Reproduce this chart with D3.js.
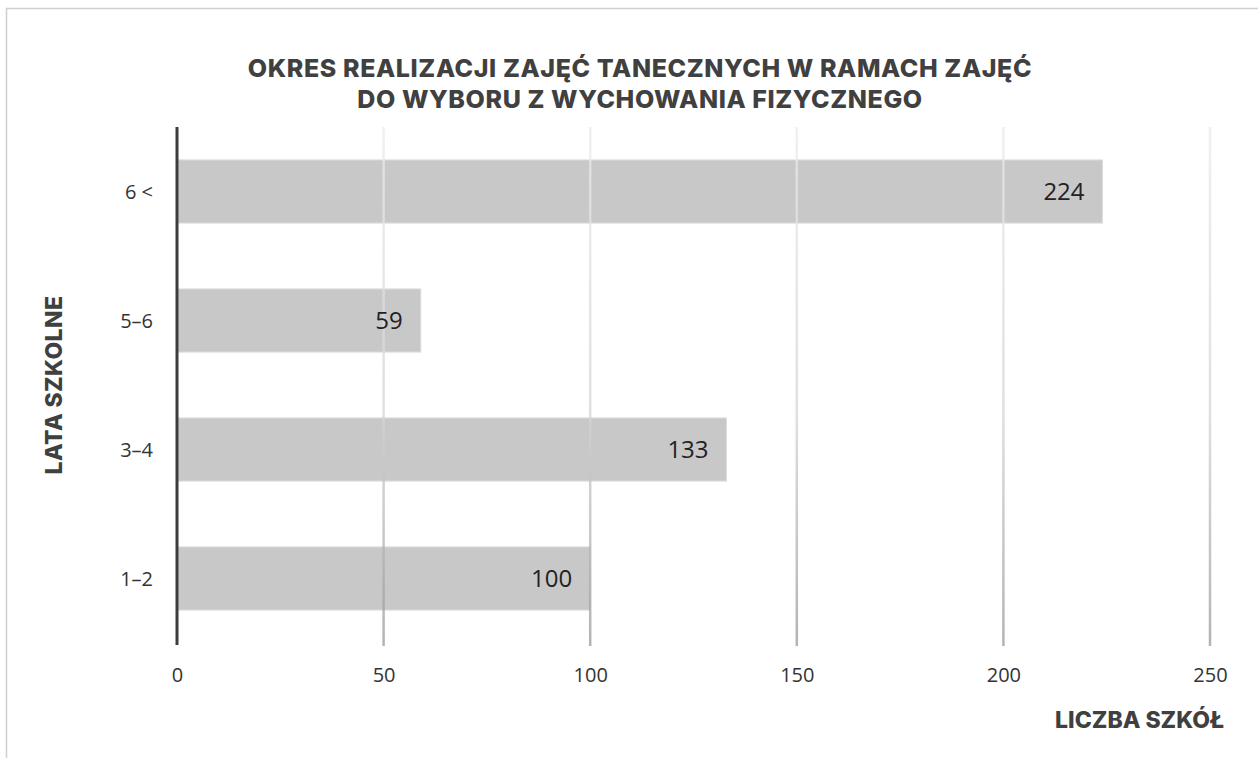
<!DOCTYPE html>
<html><head><meta charset="utf-8">
<script src="https://cdn.jsdelivr.net/npm/d3@7"></script>
<style>
html,body{margin:0;padding:0;background:#fff;}
svg{display:block;}
</style></head>
<body>
<svg id="chart" width="1258" height="758"></svg>
<script>
const categories = ["6 <", "5–6", "3–4", "1–2"];
const values = [224, 59, 133, 100];
const xTicks = [0, 50, 100, 150, 200, 250];
const titleLines = ["OKRES REALIZACJI ZAJĘĆ TANECZNYCH W RAMACH ZAJĘĆ", "DO WYBORU Z WYCHOWANIA FIZYCZNEGO"];
const yTitle = "LATA SZKOLNE";
const xTitle = "LICZBA SZKÓŁ";

const svg = d3.select("#chart");
const W = 1258, H = 758;
const plot = {left: 177, right: 1210, top: 127, bottom: 643};

// outer frame
svg.append("rect").attr("x", 6.5).attr("y", 8.5).attr("width", W + 20).attr("height", H + 20)
  .attr("fill", "#fff").attr("stroke", "#cfcfcf").attr("stroke-width", 1.5);

const x = d3.scaleLinear().domain([0, 250]).range([plot.left, plot.right]);
const y = d3.scaleBand().domain(categories).range([plot.top, plot.bottom]).paddingInner(0.51).paddingOuter(0.255);

const defs = svg.append("defs");
const grad = defs.append("linearGradient").attr("id", "gridGrad")
  .attr("gradientUnits", "userSpaceOnUse").attr("x1", 0).attr("x2", 0)
  .attr("y1", plot.top).attr("y2", plot.bottom + 3);
grad.append("stop").attr("offset", "0%").attr("stop-color", "#ececec");
grad.append("stop").attr("offset", "55%").attr("stop-color", "#d6d6d6");
grad.append("stop").attr("offset", "100%").attr("stop-color", "#9a9a9a");

// bars
svg.append("g").selectAll("rect").data(values).join("rect")
  .attr("x", x(0))
  .attr("y", (d, i) => y(categories[i]))
  .attr("width", d => x(d) - x(0))
  .attr("height", y.bandwidth())
  .attr("fill", "#c8c8c8")
  .attr("stroke", "#dedede").attr("stroke-width", 1);

// gridlines (drawn over bars, semi-transparent)
svg.append("g").selectAll("line").data(xTicks.filter(t => t > 0)).join("line")
  .attr("x1", d => x(d)).attr("x2", d => x(d))
  .attr("y1", plot.top).attr("y2", plot.bottom + 3)
  .attr("stroke", "url(#gridGrad)").attr("stroke-width", 2.5)
  .attr("opacity", 0.75);

// axis line
svg.append("line").attr("x1", x(0)).attr("x2", x(0))
  .attr("y1", plot.top).attr("y2", plot.bottom + 2)
  .attr("stroke", "#3d3d3d").attr("stroke-width", 3);

// value labels
svg.append("g").selectAll("text").data(values).join("text")
  .attr("x", d => x(d) - 18)
  .attr("y", (d, i) => y(categories[i]) + y.bandwidth() / 2)
  .attr("dy", "0.36em")
  .attr("text-anchor", "end")
  .attr("font-family", "Open Sans, sans-serif")
  .attr("font-size", 24)
  .attr("fill", "#222")
  .text(d => d);

// x axis tick labels
const xAxis = d3.axisBottom(x).tickValues(xTicks).tickSize(0).tickPadding(0).tickFormat(d3.format("d"));
const gx = svg.append("g").attr("transform", `translate(0,${plot.bottom + 32})`).call(xAxis);
gx.select(".domain").remove();
gx.selectAll("text").attr("font-family", "Open Sans, sans-serif").attr("font-size", 20).attr("fill", "#333").attr("dy", "0.36em");

// y axis category labels
const yAxis = d3.axisLeft(y).tickSize(0).tickPadding(0);
const gy = svg.append("g").attr("transform", `translate(${plot.left - 24},0)`).call(yAxis);
gy.select(".domain").remove();
gy.selectAll("text").attr("font-family", "Open Sans, sans-serif").attr("font-size", 20).attr("fill", "#333").attr("dy", "0.36em");

// title
svg.append("text").attr("x", 640).attr("y", 77).attr("text-anchor", "middle")
  .attr("font-family", "Inter, sans-serif").attr("font-weight", 800).attr("font-size", 25)
  .attr("letter-spacing", 0.6)
  .attr("fill", "#404040").text(titleLines[0]);
svg.append("text").attr("x", 640).attr("y", 108).attr("text-anchor", "middle")
  .attr("font-family", "Inter, sans-serif").attr("font-weight", 800).attr("font-size", 25)
  .attr("letter-spacing", 0.6)
  .attr("fill", "#404040").text(titleLines[1]);

// axis titles
svg.append("text").attr("transform", `translate(62,385) rotate(-90)`).attr("text-anchor", "middle")
  .attr("font-family", "Inter, sans-serif").attr("font-weight", 800).attr("font-size", 23)
  .attr("letter-spacing", 0.4)
  .attr("fill", "#404040").text(yTitle);
svg.append("text").attr("x", 1224).attr("y", 728).attr("text-anchor", "end")
  .attr("font-family", "Inter, sans-serif").attr("font-weight", 800).attr("font-size", 23)
  .attr("fill", "#404040").text(xTitle);
</script>
</body></html>
